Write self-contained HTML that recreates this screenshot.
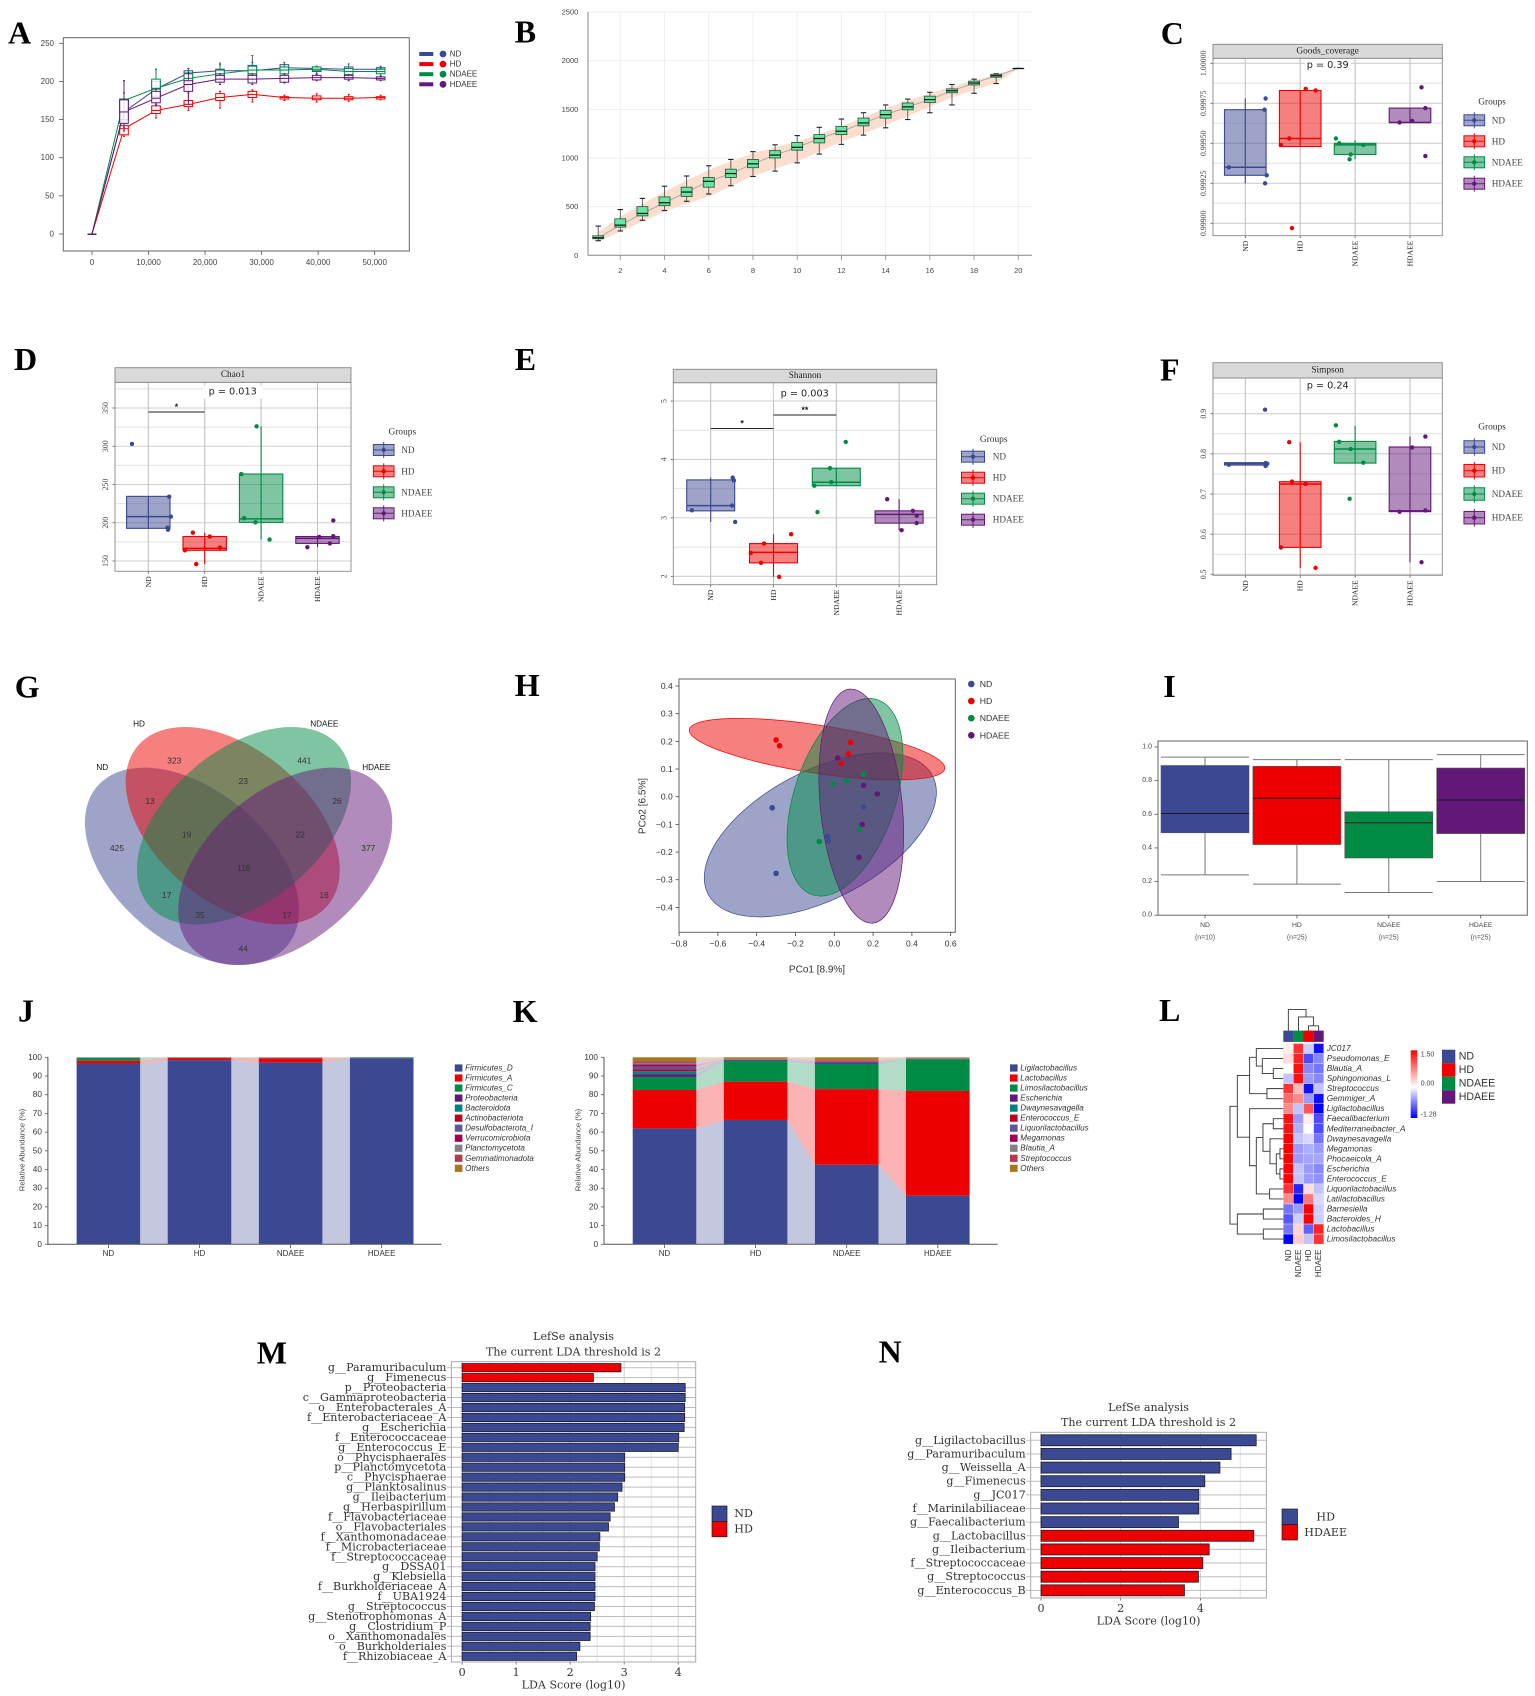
<!DOCTYPE html>
<html lang="en">
<head>
<meta charset="utf-8">
<title>Microbiome figure panels A-N</title>
<style>
html,body{margin:0;padding:0;background:#fff;}
svg{display:block;filter:blur(0.35px);font-family:"Liberation Sans",sans-serif;}
.letter{font-family:"Liberation Serif",serif;font-weight:bold;font-size:32px;fill:#000;}
.venn{font-size:8.4px;text-anchor:middle;dominant-baseline:central;fill:#333;}
.vset{font-size:8.2px;text-anchor:middle;dominant-baseline:central;fill:#111;}
</style>
</head>
<body>
<svg id="figure" xmlns="http://www.w3.org/2000/svg" width="1535" height="1696" viewBox="0 0 1535 1696">
<rect x="0" y="0" width="1535" height="1696" fill="#fff"/>
<text class="letter" x="8" y="43.3">A</text>
<text class="letter" x="514.7" y="42.7">B</text>
<text class="letter" x="1160.7" y="44">C</text>
<text class="letter" x="14" y="370">D</text>
<text class="letter" x="514.7" y="370">E</text>
<text class="letter" x="1160" y="380.7">F</text>
<text class="letter" x="14.7" y="697.3">G</text>
<text class="letter" x="514.7" y="696">H</text>
<text class="letter" x="1163.3" y="697">I</text>
<text class="letter" x="18" y="1021.7">J</text>
<text class="letter" x="512.6" y="1022">K</text>
<text class="letter" x="1159" y="1021">L</text>
<text class="letter" x="256.8" y="1363.3">M</text>
<text class="letter" x="878.6" y="1362.7">N</text>

<g id="panel-a"></g>
<g id="panel-b"></g>
<g id="panel-c"></g>
<g id="panel-d"></g>
<g id="panel-e"></g>
<g id="panel-f"></g>

<g id="panel-g">
<ellipse cx="192" cy="866.3" rx="124" ry="76.3" transform="rotate(39.8 192 866.3)" fill="#3b4992" fill-opacity=".5"/>
<ellipse cx="232.7" cy="825.7" rx="124" ry="76.3" transform="rotate(39.8 232.7 825.7)" fill="#ee0000" fill-opacity=".5"/>
<ellipse cx="244" cy="825.7" rx="124" ry="76.3" transform="rotate(-39.8 244 825.7)" fill="#008b45" fill-opacity=".5"/>
<ellipse cx="285.2" cy="866.3" rx="124" ry="76.3" transform="rotate(-39.8 285.2 866.3)" fill="#631879" fill-opacity=".5"/>
<text class="vset" x="139" y="724">HD</text>
<text class="vset" x="324.3" y="724">NDAEE</text>
<text class="vset" x="102.3" y="767.7">ND</text>
<text class="vset" x="376.3" y="767.7">HDAEE</text>
<text class="venn" x="117" y="848">425</text>
<text class="venn" x="174.3" y="760.7">323</text>
<text class="venn" x="304.3" y="760.7">441</text>
<text class="venn" x="368.3" y="848">377</text>
<text class="venn" x="150" y="801">13</text>
<text class="venn" x="243.3" y="781">23</text>
<text class="venn" x="337" y="801">26</text>
<text class="venn" x="186.7" y="834.7">19</text>
<text class="venn" x="300.3" y="834.7">22</text>
<text class="venn" x="243.7" y="868">116</text>
<text class="venn" x="166.7" y="895">17</text>
<text class="venn" x="324" y="895">16</text>
<text class="venn" x="200" y="915">35</text>
<text class="venn" x="287" y="915">17</text>
<text class="venn" x="243.3" y="948.3">44</text>
</g>

<g id="panel-h"></g>
<g id="panel-i"></g>
<g id="panel-j"></g>
<g id="panel-k"></g>
<g id="panel-l"></g>
<g id="panel-m"></g>
<g id="panel-n"></g>
</svg>

<script>
/* ---------- shared categories ---------- */
const groups = ['ND','HD','NDAEE','HDAEE'];
const groupColors = ['#3b4992','#ee0000','#008b45','#631879'];
const stackColors = ['#3b4992','#ee0000','#008b45','#631879','#008280','#bb0021','#5f559b','#a20056','#808180','#b2394f','#a6761d'];

/* ---------- panel A data ---------- */
const a_steps = [0,5660,11320,17040,22640,28360,34020,39740,45400,51060];
const a_x_ticks = [0,10000,20000,30000,40000,50000];
const a_x_labels = ['0','10,000','20,000','30,000','40,000','50,000'];
const a_y_ticks = [0,50,100,150,200,250];
const a_nd_med = [0,160,190,211,214,214,218,217,216,216];
const a_nd_q1 = [0,150,180,200,208,208,214,213,213,212];
const a_nd_q3 = [0,176,200,214,216,221,222,219,219,218];
const a_nd_lo = [0,133,170,190,200,200,208,207,207,206];
const a_nd_hi = [0,185,216,217,224,234,225,220,223,220];
const a_hd_med = [0,138,162,170,179,183,179,178,178,179];
const a_hd_q1 = [0,130,158,167,175,179,177,176,176,177];
const a_hd_q3 = [0,142,168,175,184,187,180,181,180,180];
const a_hd_lo = [0,128,152,162,165,173,175,173,174,176];
const a_hd_hi = [0,150,172,185,187,189,182,184,183,182];
const a_ndaee_med = [0,175,191,204,210,215,215,216,213,213];
const a_ndaee_q1 = [0,160,190,198,207,210,210,214,209,210];
const a_ndaee_q3 = [0,177,203,210,215,220,219,219,217,216];
const a_ndaee_lo = [0,140,180,190,200,205,205,210,205,206];
const a_ndaee_hi = [0,201,216,217,222,225,222,220,219,218];
const a_hdaee_med = [0,160,178,196,203,203,204,205,205,204];
const a_hdaee_q1 = [0,145,172,187,199,198,199,202,203,202];
const a_hdaee_q3 = [0,176,187,201,208,208,208,208,208,206];
const a_hdaee_lo = [0,135,168,170,196,196,198,201,201,201];
const a_hdaee_hi = [0,201,190,212,210,210,210,209,209,207];

/* ---------- panel B data ---------- */
const b_samples = [1,2,3,4,5,6,7,8,9,10,11,12,13,14,15,16,17,18,19,20];
const b_x_ticks = [2,4,6,8,10,12,14,16,18,20];
const b_y_ticks = [0,500,1000,1500,2000,2500];
const b_hi = [300,470,585,710,815,920,985,1065,1135,1230,1315,1400,1465,1545,1605,1675,1755,1810,1865,1920];
const b_q3 = [200,375,500,600,700,800,885,985,1075,1160,1240,1325,1410,1490,1565,1635,1710,1790,1860,1920];
const b_med = [180,310,430,540,650,760,840,940,1030,1110,1200,1275,1360,1445,1525,1600,1690,1770,1845,1920];
const b_q1 = [170,290,405,510,605,700,800,900,1000,1080,1155,1240,1330,1410,1495,1570,1670,1750,1830,1920];
const b_lo = [150,250,360,460,555,630,715,810,865,950,1040,1140,1235,1310,1395,1465,1545,1665,1765,1920];
const b_band_hi = [240,397,530,654,770,877,965,1048,1110,1168,1245,1322,1420,1510,1590,1664,1735,1800,1855,1920];
const b_band_lo = [140,243,345,449,530,603,710,815,890,962,1065,1168,1250,1339,1430,1527,1620,1700,1767,1920];

/* ---------- panel C data ---------- */
const c_ticks = [0.999,0.99925,0.9995,0.99975,1];
const c_tick_labels = ['0.99900','0.99925','0.99950','0.99975','1.00000'];
const c_q1 = [0.9993,0.99948,0.99943,0.99963];
const c_med = [0.99935,0.99953,0.99949,0.99963];
const c_q3 = [0.99971,0.99983,0.9995,0.99972];
const c_lo = [0.99925,0.99948,0.9994,0.99963];
const c_hi = [0.99978,0.99983,0.99952,0.99972];
const c_nd_pts = [0.99978,0.99971,0.99935,0.9993,0.99925];
const c_hd_pts = [0.99984,0.99983,0.99953,0.99949,0.99897];
const c_ndaee_pts = [0.99953,0.9995,0.99949,0.99943,0.9994];
const c_hdaee_pts = [0.99985,0.99972,0.99963,0.99964,0.99942];
const c_nd_jit = [0.37,0.35,-0.3,0.39,0.36];
const c_hd_jit = [0.1,0.28,-0.2,-0.35,-0.15];
const c_ndaee_jit = [-0.35,-0.29,0.15,-0.08,-0.1];
const c_hdaee_jit = [0.21,0.28,-0.19,0.04,0.28];

/* ---------- panel D data ---------- */
const d_ticks = [150,200,250,300,350];
const d_tick_labels = ['150','200','250','300','350'];
const d_q1 = [192.7,164,200.5,173];
const d_med = [208,166.5,205,179.5];
const d_q3 = [234.5,182,263.7,182];
const d_lo = [192.7,146,178,168];
const d_hi = [234.5,187,326,182];
const d_nd_pts = [303,234,208,193.5,191];
const d_hd_pts = [187,182,167.5,164,146];
const d_ndaee_pts = [326,263.7,206,200.5,178];
const d_hdaee_pts = [203,182.5,181.5,173,168];
const d_nd_jit = [-0.29,0.37,0.4,0.34,0.35];
const d_hd_jit = [-0.21,0.09,0.27,-0.35,-0.15];
const d_ndaee_jit = [-0.08,-0.35,-0.3,-0.1,0.15];
const d_hdaee_jit = [0.28,0.28,0.03,0.22,-0.18];

/* ---------- panel E data ---------- */
const e_ticks = [2,3,4,5];
const e_tick_labels = ['2','3','4','5'];
const e_q1 = [3.12,2.23,3.55,2.91];
const e_med = [3.21,2.41,3.61,3.06];
const e_q3 = [3.65,2.56,3.85,3.12];
const e_lo = [2.93,1.99,3.55,2.79];
const e_hi = [3.69,2.72,3.85,3.32];
const e_nd_pts = [3.69,3.64,3.21,3.13,2.93];
const e_hd_pts = [2.72,2.56,2.4,2.23,1.99];
const e_ndaee_pts = [4.3,3.85,3.61,3.55,3.1];
const e_hdaee_pts = [3.32,3.12,3.04,2.91,2.79];
const e_nd_jit = [0.35,0.37,0.34,-0.3,0.39];
const e_hd_jit = [0.28,-0.15,-0.36,-0.2,0.09];
const e_ndaee_jit = [0.15,-0.1,-0.08,-0.35,-0.3];
const e_hdaee_jit = [-0.19,0.22,0.28,0.28,0.04];

/* ---------- panel F data ---------- */
const f_ticks = [0.5,0.6,0.7,0.8,0.9];
const f_tick_labels = ['0.5','0.6','0.7','0.8','0.9'];
const f_q1 = [0.772,0.567,0.777,0.656];
const f_med = [0.7755,0.725,0.812,0.658];
const f_q3 = [0.778,0.7307,0.831,0.817];
const f_lo = [0.772,0.516,0.777,0.53];
const f_hi = [0.778,0.829,0.87,0.843];
const f_nd_pts = [0.91,0.777,0.7755,0.77,0.773];
const f_hd_pts = [0.829,0.731,0.725,0.567,0.516];
const f_ndaee_pts = [0.871,0.83,0.812,0.778,0.688];
const f_hdaee_pts = [0.843,0.816,0.656,0.659,0.53];
const f_nd_jit = [0.36,0.37,0.4,0.37,-0.3];
const f_hd_jit = [-0.2,-0.15,0.1,-0.35,0.28];
const f_ndaee_jit = [-0.35,-0.29,-0.08,0.15,-0.1];
const f_hdaee_jit = [0.28,0.04,-0.19,0.28,0.21];

/* ---------- panel H data ---------- */
const h_x_ticks = [-0.8,-0.6,-0.4,-0.2,0,0.2,0.4,0.6];
const h_x_labels = ['\u22120.8','\u22120.6','\u22120.4','\u22120.2','0.0','0.2','0.4','0.6'];
const h_y_ticks = [-0.4,-0.3,-0.2,-0.1,0,0.1,0.2,0.3,0.4];
const h_y_labels = ['\u22120.4','\u22120.3','\u22120.2','\u22120.1','0.0','0.1','0.2','0.3','0.4'];
const h_nd_x = [-0.32,-0.30,-0.034,-0.029,0.151];
const h_nd_y = [-0.04,-0.277,-0.144,-0.16,-0.037];
const h_hd_x = [-0.30,-0.282,0.084,0.072,0.036];
const h_hd_y = [0.205,0.184,0.196,0.155,0.12];
const h_ndaee_x = [0.151,0.064,-0.007,0.129,-0.077];
const h_ndaee_y = [0.082,0.058,0.047,-0.117,-0.162];
const h_hdaee_x = [0.017,0.151,0.222,0.144,0.127];
const h_hdaee_y = [0.14,0.041,0.01,-0.1,-0.219];
const h_ell_cx = [-0.072,-0.089,0.055,0.139];
const h_ell_cy = [-0.138,0.172,-0.002,-0.034];
const h_ell_major = [0.654,0.666,0.53,0.606];
const h_ell_minor = [0.33,0.124,0.261,0.211];
const h_ell_angle = [-27.9,8.7,-71.6,84.3];

/* ---------- panel I data ---------- */
const i_ticks = [0,0.2,0.4,0.6,0.8,1];
const i_tick_labels = ['0.0','0.2','0.4','0.6','0.8','1.0'];
const i_counts = ['(n=10)','(n=25)','(n=25)','(n=25)'];
const i_hi = [0.94,0.925,0.925,0.955];
const i_q3 = [0.89,0.885,0.615,0.875];
const i_med = [0.605,0.695,0.55,0.685];
const i_q1 = [0.49,0.42,0.34,0.485];
const i_lo = [0.24,0.185,0.135,0.2];

/* ---------- panel J data ---------- */
const stack_ticks = [0,10,20,30,40,50,60,70,80,90,100];
const j_names = ['Firmicutes_D','Firmicutes_A','Firmicutes_C','Proteobacteria','Bacteroidota','Actinobacteriota','Desulfobacterota_I','Verrucomicrobiota','Planctomycetota','Gemmatimonadota','Others'];
const j_firmicutes_d = [96.7,98.5,97.3,99.5];
const j_firmicutes_a = [1.5,1.1,2.2,0.1];
const j_firmicutes_c = [1.4,0.2,0.1,0.3];
const j_proteobacteria = [0.1,0.05,0.1,0.02];
const j_bacteroidota = [0.1,0.05,0.1,0.02];
const j_actinobacteriota = [0.05,0.02,0.05,0.01];
const j_desulfobacterota = [0.05,0.02,0.05,0.01];
const j_verrucomicrobiota = [0.02,0.02,0.02,0.01];
const j_planctomycetota = [0.02,0.01,0.02,0.01];
const j_gemmatimonadota = [0.02,0.01,0.02,0.01];
const j_others = [0.04,0.04,0.04,0.01];

/* ---------- panel K data ---------- */
const k_names = ['Ligilactobacillus','Lactobacillus','Limosilactobacillus','Escherichia','Dwaynesavagella','Enterococcus_E','Liquorilactobacillus','Megamonas','Blautia_A','Streptococcus','Others'];
const k_ligilactobacillus = [62,66.5,42.5,26];
const k_lactobacillus = [20.5,20.5,40.5,56];
const k_limosilactobacillus = [7,11,13.5,17];
const k_escherichia = [1.5,0.3,0.8,0.1];
const k_dwaynesavagella = [1.5,0.2,0.3,0.1];
const k_enterococcus = [1,0.2,0.3,0.1];
const k_liquorilactobacillus = [1.5,0.2,0.2,0.1];
const k_megamonas = [1.2,0.1,0.2,0.1];
const k_blautia = [0.8,0.1,0.1,0.1];
const k_streptococcus = [0.8,0.1,0.2,0.1];
const k_others = [2.2,0.8,1.4,0.3];

/* ---------- panel L data ---------- */
const l_columns = ['ND','NDAEE','HD','HDAEE'];
const l_column_colors = ['#3b4992','#008b45','#ee0000','#631879'];
const l_rows = ['JC017','Pseudomonas_E','Blautia_A','Sphingomonas_L','Streptococcus','Gemmiger_A','Ligilactobacillus','Faecalibacterium','Mediterraneibacter_A','Dwaynesavagella','Megamonas','Phocaeicola_A','Escherichia','Enterococcus_E','Liquorilactobacillus','Latilactobacillus','Barnesiella','Bacteroides_H','Lactobacillus','Limosilactobacillus'];
const l_nd = [0.1,0.2,0,-0.3,1.2,0.9,0.7,1.4,1.4,1.5,1.5,1.5,1.5,1.5,1.2,0.7,-0.7,-0.85,-0.7,-1.28];
const l_ndaee = [1.2,1.3,1.4,1.4,0.4,0.7,-0.3,-0.5,-0.4,-0.3,-0.5,-0.5,-0.3,-0.3,-1.1,-1.28,-0.5,-0.25,0.25,0.3];
const l_hd = [-0.25,-0.9,-0.6,-0.5,-1.2,-0.5,1.0,0.1,0.02,-0.2,-0.4,-0.45,-0.5,-0.5,0.2,0.8,1.5,1.5,-0.8,-0.3];
const l_hdaee = [-1.2,-0.6,-0.7,-0.6,-0.3,-1.2,-1.28,-0.9,-0.9,-0.7,-0.5,-0.45,-0.6,-0.55,-0.3,-0.2,-0.25,-0.25,1.3,1.2];
const l_row_tree = [160,[138,[101,[81,0,[63,1,[30,2,3]]],[49,4,5]],[101,6,[81,[61,[30,7,8],[40,9,[21,[10,10,11],[10,12,13]]]],[41,14,15]]]],[138,[60,16,17],[60,18,19]]];
const l_col_tree = [21,0,[13.7,1,[4.8,2,3]]];

/* ---------- panel M data ---------- */
const m_labels = ['g__Paramuribaculum','g__Fimenecus','p__Proteobacteria','c__Gammaproteobacteria','o__Enterobacterales_A','f__Enterobacteriaceae_A','g__Escherichia','f__Enterococcaceae','g__Enterococcus_E','o__Phycisphaerales','p__Planctomycetota','c__Phycisphaerae','g__Planktosalinus','g__Ileibacterium','g__Herbaspirillum','f__Flavobacteriaceae','o__Flavobacteriales','f__Xanthomonadaceae','f__Microbacteriaceae','f__Streptococcaceae','g__DSSA01','g__Klebsiella','f__Burkholderiaceae_A','f__UBA1924','g__Streptococcus','g__Stenotrophomonas_A','g__Clostridium_P','o__Xanthomonadales','o__Burkholderiales','f__Rhizobiaceae_A'];
const m_scores = [2.94,2.43,4.13,4.13,4.12,4.12,4.11,4.01,4.0,3.01,3.01,3.01,2.96,2.88,2.82,2.74,2.71,2.55,2.54,2.5,2.46,2.46,2.46,2.46,2.45,2.38,2.37,2.37,2.18,2.12];
const m_classes = [1,1,0,0,0,0,0,0,0,0,0,0,0,0,0,0,0,0,0,0,0,0,0,0,0,0,0,0,0,0];
const m_ticks = [0,1,2,3,4];

/* ---------- panel N data ---------- */
const n_labels = ['g__Ligilactobacillus','g__Paramuribaculum','g__Weissella_A','g__Fimenecus','g__JC017','f__Marinilabiliaceae','g__Faecalibacterium','g__Lactobacillus','g__Ileibacterium','f__Streptococcaceae','g__Streptococcus','g__Enterococcus_B'];
const n_scores = [5.4,4.77,4.49,4.11,3.96,3.96,3.45,5.34,4.22,4.06,3.95,3.6];
const n_classes = [0,0,0,0,0,0,0,1,1,1,1,1];
const n_ticks = [0,2,4];

/* ---------- helpers ---------- */
const NS = 'http://www.w3.org/2000/svg';
function add(parent, tag, attrs, content) {
  const e = document.createElementNS(NS, tag);
  for (const k in attrs) e.setAttribute(k, attrs[k]);
  if (content !== undefined) e.textContent = content;
  parent.appendChild(e);
  return e;
}
function linear(d0, d1, r0, r1) {
  return v => r0 + (v - d0) * (r1 - r0) / (d1 - d0);
}
function panel(id) { return document.getElementById(id); }
const SERIF = '"Liberation Serif",serif';
const DJSERIF = '"DejaVu Serif","Liberation Serif",serif';
const DJSANS = '"DejaVu Sans","Liberation Sans",sans-serif';

/* ---------- panel A ---------- */
(function () {
  const g = panel('panel-a');
  const x = linear(0, 50000, 92, 374.7);
  const y = linear(0, 250, 234, 43.3);
  const frame = add(g, 'rect', {x:63.3, y:37.7, width:346, height:213.3, fill:'#fff', stroke:'#666', 'stroke-width':1});
  
  
  a_y_ticks.forEach(t => {
    const tk = add(g, 'line', {x1:59, x2:63.3, y1:y(t), y2:y(t), stroke:'#555', 'stroke-width':.8});
    
    
    const lb = add(g, 'text', {x:54, y:y(t), 'text-anchor':'end', 'dominant-baseline':'central', 'font-size':8, fill:'#444'}, String(t));
    
    
  });
  a_x_ticks.forEach((t, i) => {
    const tk = add(g, 'line', {x1:x(t), x2:x(t), y1:251, y2:255, stroke:'#555', 'stroke-width':.8});
    
    
    const lb = add(g, 'text', {x:x(t), y:262.3, 'text-anchor':'middle', 'dominant-baseline':'central', 'font-size':8, fill:'#444'}, a_x_labels[i]);
    
    
  });
  const series = [
    [a_nd_med,a_nd_q1,a_nd_q3,a_nd_lo,a_nd_hi],
    [a_hd_med,a_hd_q1,a_hd_q3,a_hd_lo,a_hd_hi],
    [a_ndaee_med,a_ndaee_q1,a_ndaee_q3,a_ndaee_lo,a_ndaee_hi],
    [a_hdaee_med,a_hdaee_q1,a_hdaee_q3,a_hdaee_lo,a_hdaee_hi]
  ];
  series.forEach((s, si) => {
    const col = groupColors[si];
    const line = add(g, 'polyline', {points:a_steps.map((st, i) => x(st) + ',' + y(s[0][i])).join(' '), fill:'none', stroke:col, 'stroke-width':1});
    
    
    a_steps.forEach((st, i) => {
      const cx = x(st);
      const w = add(g, 'line', {x1:cx, x2:cx, y1:y(s[3][i]), y2:y(s[4][i]), stroke:col, 'stroke-width':.9});
      
      
      [s[3][i], s[4][i]].forEach(v => {
        const cp = add(g, 'line', {x1:cx - 1, x2:cx + 1, y1:y(v), y2:y(v), stroke:col, 'stroke-width':1});
        
        
      });
      const hw = i === 0 ? 4 : 4.3;
      const b = add(g, 'rect', {x:cx - hw, y:y(s[2][i]), width:hw * 2, height:Math.max(.5, y(s[1][i]) - y(s[2][i])), fill:'#fff', 'fill-opacity':.85, stroke:col, 'stroke-width':1});
      
      
      const m = add(g, 'line', {x1:cx - hw, x2:cx + hw, y1:y(s[0][i]), y2:y(s[0][i]), stroke:col, 'stroke-width':1});
      
      
    });
  });
  groups.forEach((name, i) => {
    const ly = 54 + i * 10.1;
    const sw = add(g, 'line', {x1:419.3, x2:433.3, y1:ly, y2:ly, stroke:groupColors[i], 'stroke-width':4});
    
    
    const c = add(g, 'circle', {cx:443, cy:ly, r:3.4, fill:groupColors[i]});
    
    
    const t = add(g, 'text', {x:449.7, y:ly, 'dominant-baseline':'central', 'font-size':8, fill:'#333'}, name);
    
    
  });
})();

/* ---------- panel B ---------- */
(function () {
  const g = panel('panel-b');
  const x = linear(2, 20, 620.3, 1018.3);
  const y = linear(0, 2500, 255.3, 12);
  b_y_ticks.forEach(t => {
    const gl = add(g, 'line', {x1:588, x2:1032, y1:y(t), y2:y(t), stroke:'#eee', 'stroke-width':1});
    
    
    const lb = add(g, 'text', {x:578.3, y:y(t), 'text-anchor':'end', 'dominant-baseline':'central', 'font-size':7.5, fill:'#444'}, String(t));
    
    
  });
  b_x_ticks.forEach(t => {
    const gl = add(g, 'line', {x1:x(t), x2:x(t), y1:12, y2:255.3, stroke:'#eee', 'stroke-width':1});
    
    
    const tk = add(g, 'line', {x1:x(t), x2:x(t), y1:255.3, y2:260, stroke:'#888', 'stroke-width':.8});
    
    
    const lb = add(g, 'text', {x:x(t), y:270.3, 'text-anchor':'middle', 'dominant-baseline':'central', 'font-size':7.5, fill:'#444'}, String(t));
    
    
  });
  const axL = add(g, 'line', {x1:588, x2:588, y1:12, y2:255.3, stroke:'#aaa', 'stroke-width':1.4});
  
  
  const axB = add(g, 'line', {x1:588, x2:1032, y1:255.3, y2:255.3, stroke:'#888', 'stroke-width':1});
  
  
  const upper = b_samples.map((s, i) => x(s) + ',' + y(b_band_hi[i]));
  const lower = b_samples.map((s, i) => x(s) + ',' + y(b_band_lo[i])).reverse();
  const band = add(g, 'polygon', {points:upper.concat(lower).join(' '), fill:'#fbdccb', 'fill-opacity':.95});
  
  
  const ml = add(g, 'polyline', {points:b_samples.map((s, i) => x(s) + ',' + y(b_med[i])).join(' '), fill:'none', stroke:'#aaa', 'stroke-width':1});
  
  
  b_samples.forEach((s, i) => {
    const cx = x(s);
    const w = add(g, 'line', {x1:cx, x2:cx, y1:y(b_lo[i]), y2:y(b_hi[i]), stroke:'#555', 'stroke-width':.9});
    
    
    [b_lo[i], b_hi[i]].forEach(v => {
      const c = add(g, 'line', {x1:cx - 2.7, x2:cx + 2.7, y1:y(v), y2:y(v), stroke:'#222', 'stroke-width':1.1});
      
      
    });
    const b = add(g, 'rect', {x:cx - 5.5, y:y(b_q3[i]), width:11, height:Math.max(.3, y(b_q1[i]) - y(b_q3[i])), fill:'#62e8a0', stroke:'#2d4a3a', 'stroke-width':.8});
    
    
    const m = add(g, 'line', {x1:cx - 5.5, x2:cx + 5.5, y1:y(b_med[i]), y2:y(b_med[i]), stroke:'#111', 'stroke-width':1.2});
    
    
  });
})();

/* ---------- panels C-F ---------- */
function facet(cfg) {
  const g = panel(cfg.id);
  const y = linear(cfg.ticks[0], cfg.ticks[cfg.ticks.length - 1], cfg.y0, cfg.y1);
  const x = i => cfg.cats[0] + i * (cfg.cats[1] - cfg.cats[0]);
  const spacing = cfg.cats[1] - cfg.cats[0];
  const bg = add(g, 'rect', {x:cfg.left, y:cfg.stripBot, width:cfg.right - cfg.left, height:cfg.bottom - cfg.stripBot, fill:'#fff'});
  
  
  const step = cfg.ticks[1] - cfg.ticks[0];
  for (let v = cfg.ticks[0] - step / 2; y(v) > cfg.stripBot; v += step) {
    if (y(v) >= cfg.bottom) continue;
    const mg = add(g, 'line', {x1:cfg.left, x2:cfg.right, y1:y(v), y2:y(v), stroke:'#e2e2e2', 'stroke-width':1});
    
    
  }
  cfg.ticks.forEach((t, i) => {
    const gl = add(g, 'line', {x1:cfg.left, x2:cfg.right, y1:y(t), y2:y(t), stroke:'#cfcfcf', 'stroke-width':1.1});
    
    
    const tk = add(g, 'line', {x1:cfg.left - 2.5, x2:cfg.left, y1:y(t), y2:y(t), stroke:'#555', 'stroke-width':.8});
    
    
    const lx = cfg.left - 9.5;
    const lb = add(g, 'text', {x:lx, y:y(t), 'text-anchor':'middle', 'dominant-baseline':'central', transform:'rotate(-90 ' + lx + ' ' + y(t) + ')', 'font-size':7.9, 'font-family':SERIF, fill:'#444'}, cfg.tickLabels[i]);
    
    
  });
  groups.forEach((name, i) => {
    const vl = add(g, 'line', {x1:x(i), x2:x(i), y1:cfg.stripBot, y2:cfg.bottom, stroke:'#c2c2c2', 'stroke-width':1.1});
    
    
    const tk = add(g, 'line', {x1:x(i), x2:x(i), y1:cfg.bottom, y2:cfg.bottom + 2.5, stroke:'#555', 'stroke-width':.8});
    
    
    const ly = cfg.bottom + 5;
    const lb = add(g, 'text', {x:x(i), y:ly, 'text-anchor':'end', 'dominant-baseline':'central', transform:'rotate(-90 ' + x(i) + ' ' + ly + ')', 'font-size':7.6, 'font-family':SERIF, fill:'#222'}, name);
    
    
  });
  groups.forEach((name, i) => {
    const col = groupColors[i];
    const low = name.toLowerCase();
    const w = add(g, 'line', {x1:x(i), x2:x(i), y1:y(cfg.lo[i]), y2:y(cfg.hi[i]), stroke:col, 'stroke-width':1.1});
    
    
    const b = add(g, 'rect', {x:x(i) - cfg.hw, y:y(cfg.q3[i]), width:cfg.hw * 2, height:y(cfg.q1[i]) - y(cfg.q3[i]), fill:col, 'fill-opacity':.5, stroke:col, 'stroke-width':1.1});
    
    
    const m = add(g, 'line', {x1:x(i) - cfg.hw, x2:x(i) + cfg.hw, y1:y(cfg.med[i]), y2:y(cfg.med[i]), stroke:col, 'stroke-width':1.5});
    
    
    cfg.pts[i].forEach((v, k) => {
      const p = add(g, 'circle', {cx:x(i) + cfg.jit[i][k] * spacing, cy:y(v), r:2.2, fill:col});
      
      
    });
  });
  const frame = add(g, 'rect', {x:cfg.left, y:cfg.stripBot, width:cfg.right - cfg.left, height:cfg.bottom - cfg.stripBot, fill:'none', stroke:'#888', 'stroke-width':.9});
  
  
  const strip = add(g, 'rect', {x:cfg.left, y:cfg.stripTop, width:cfg.right - cfg.left, height:cfg.stripBot - cfg.stripTop, fill:'#d9d9d9', stroke:'#858585', 'stroke-width':.9});
  
  
  const tx = (cfg.left + cfg.right) / 2;
  const st = add(g, 'text', {x:tx, y:(cfg.stripTop + cfg.stripBot) / 2, 'text-anchor':'middle', 'dominant-baseline':'central', 'font-size':9.3, 'font-family':SERIF, fill:'#222'}, cfg.title);
  
  
  const pbg = add(g, 'rect', {x:cfg.pX - cfg.pW / 2, y:cfg.pY - 6.5, width:cfg.pW, height:13, fill:'#fff'});
  
  
  const pt = add(g, 'text', {x:cfg.pX, y:cfg.pY, 'text-anchor':'middle', 'dominant-baseline':'central', 'font-size':9.7, 'font-family':DJSANS, fill:'#222'}, cfg.p);
  
  
  (cfg.brackets || []).forEach(br => {
    const l = add(g, 'line', {x1:x(br.a), x2:x(br.b), y1:y(br.v), y2:y(br.v), stroke:'#222', 'stroke-width':1});
    
    
    const s = add(g, 'text', {x:(x(br.a) + x(br.b)) / 2, y:y(br.v) - 5, 'text-anchor':'middle', 'dominant-baseline':'central', 'font-size':9, 'font-weight':'bold', fill:'#222'}, br.s);
    
    
  });
  const lg = cfg.legend;
  const lt = add(g, 'text', {x:lg.titleX, y:lg.titleY, 'text-anchor':'middle', 'dominant-baseline':'central', 'font-size':9.4, 'font-family':SERIF, fill:'#333'}, 'Groups');
  
  
  groups.forEach((name, i) => {
    const col = groupColors[i];
    const low = name.toLowerCase();
    const ky = lg.ys[i];
    const v = add(g, 'line', {x1:lg.keyX, x2:lg.keyX, y1:ky - lg.h / 2 - 2.5, y2:ky + lg.h / 2 + 2.5, stroke:col, 'stroke-width':1});
    
    
    const r = add(g, 'rect', {x:lg.keyX - lg.w / 2, y:ky - lg.h / 2, width:lg.w, height:lg.h, fill:col, 'fill-opacity':.5, stroke:col, 'stroke-width':1});
    
    
    const h = add(g, 'line', {x1:lg.keyX - lg.w / 2, x2:lg.keyX + lg.w / 2, y1:ky, y2:ky, stroke:col, 'stroke-width':1});
    
    
    const d = add(g, 'circle', {cx:lg.keyX, cy:ky, r:2.2, fill:col});
    
    
    const t = add(g, 'text', {x:lg.textX, y:ky, 'dominant-baseline':'central', 'font-size':9.2, 'font-family':SERIF, fill:'#444'}, name);
    
    
  });
}
facet({id:'panel-c', title:'Goods_coverage', p:'p = 0.39', pW:46, left:1213, right:1442.3, stripTop:44.3, stripBot:58.3, bottom:235.7,
  ticks:c_ticks, tickLabels:c_tick_labels, y0:223.3, y1:63.3, cats:[1245.3,1300.2,1355.1,1410], hw:20.8,
  q1:c_q1, med:c_med, q3:c_q3, lo:c_lo, hi:c_hi, pts:[c_nd_pts,c_hd_pts,c_ndaee_pts,c_hdaee_pts], jit:[c_nd_jit,c_hd_jit,c_ndaee_jit,c_hdaee_jit],
  pX:1327.7, pY:65.5,
  legend:{titleX:1492, titleY:102.7, keyX:1474.3, textX:1491.7, ys:[120.3,141.3,162.3,183.7], w:20.7, h:11}});
facet({id:'panel-d', title:'Chao1', p:'p = 0.013', pW:60, left:115, right:351, stripTop:367.7, stripBot:382.3, bottom:571.3,
  ticks:d_ticks, tickLabels:d_tick_labels, y0:561, y1:408, cats:[148.3,204.7,261,317.3], hw:21.7,
  q1:d_q1, med:d_med, q3:d_q3, lo:d_lo, hi:d_hi, pts:[d_nd_pts,d_hd_pts,d_ndaee_pts,d_hdaee_pts], jit:[d_nd_jit,d_hd_jit,d_ndaee_jit,d_hdaee_jit],
  pX:232.7, pY:392, brackets:[{a:0, b:1, v:344.8, s:'*'}],
  legend:{titleX:402.3, titleY:432.7, keyX:383.7, textX:401.3, ys:[450,471.3,492.3,513.3], w:20.7, h:11}});
facet({id:'panel-e', title:'Shannon', p:'p = 0.003', pW:62, left:673.3, right:936.7, stripTop:369.3, stripBot:382.7, bottom:584.7,
  ticks:e_ticks, tickLabels:e_tick_labels, y0:576.3, y1:401, cats:[710.7,773.5,836.3,899], hw:24,
  q1:e_q1, med:e_med, q3:e_q3, lo:e_lo, hi:e_hi, pts:[e_nd_pts,e_hd_pts,e_ndaee_pts,e_hdaee_pts], jit:[e_nd_jit,e_hd_jit,e_ndaee_jit,e_hdaee_jit],
  pX:804.7, pY:394, brackets:[{a:0, b:1, v:4.53, s:'*'},{a:1, b:2, v:4.76, s:'**'}],
  legend:{titleX:993.7, titleY:440, keyX:973, textX:992.7, ys:[456.7,477.7,498.7,519.7], w:23, h:11}});
facet({id:'panel-f', title:'Simpson', p:'p = 0.24', pW:46, left:1213, right:1442.3, stripTop:362.7, stripBot:378, bottom:575.3,
  ticks:f_ticks, tickLabels:f_tick_labels, y0:574.3, y1:413.7, cats:[1245.3,1300.2,1355.1,1410], hw:20.8,
  q1:f_q1, med:f_med, q3:f_q3, lo:f_lo, hi:f_hi, pts:[f_nd_pts,f_hd_pts,f_ndaee_pts,f_hdaee_pts], jit:[f_nd_jit,f_hd_jit,f_ndaee_jit,f_hdaee_jit],
  pX:1327.7, pY:386,
  legend:{titleX:1492, titleY:427.7, keyX:1474.3, textX:1491.7, ys:[447,470.7,494,517.7], w:20.7, h:12.5}});

/* ---------- panel H ---------- */
(function () {
  const g = panel('panel-h');
  const x = linear(0, 0.6, 834.3, 950.7);
  const y = linear(0, 0.4, 796.7, 686);
  const pxPerUnit = (950.7 - 834.3) / 0.6;
  const frame = add(g, 'rect', {x:679, y:679, width:276.3, height:253.3, fill:'#fff', stroke:'#666', 'stroke-width':1});
  
  
  groups.forEach((name, i) => {
    const cx = x(h_ell_cx[i]);
    const cy = y(h_ell_cy[i]);
    const e = add(g, 'ellipse', {cx:cx, cy:cy, rx:h_ell_major[i] * pxPerUnit, ry:h_ell_minor[i] * pxPerUnit, transform:'rotate(' + h_ell_angle[i] + ' ' + cx + ' ' + cy + ')', fill:groupColors[i], 'fill-opacity':.5, stroke:groupColors[i], 'stroke-width':.7});
    
    
  });
  const xs = [h_nd_x,h_hd_x,h_ndaee_x,h_hdaee_x];
  const ys = [h_nd_y,h_hd_y,h_ndaee_y,h_hdaee_y];
  groups.forEach((name, i) => {
    xs[i].forEach((v, k) => {
      const p = add(g, 'circle', {cx:x(v), cy:y(ys[i][k]), r:2.8, fill:groupColors[i]});
      
      
    });
  });
  h_x_ticks.forEach((t, i) => {
    const tk = add(g, 'line', {x1:x(t), x2:x(t), y1:932.3, y2:936, stroke:'#444', 'stroke-width':.8});
    
    
    const lb = add(g, 'text', {x:x(t), y:943.3, 'text-anchor':'middle', 'dominant-baseline':'central', 'font-size':8.5, fill:'#333'}, h_x_labels[i]);
    
    
  });
  h_y_ticks.forEach((t, i) => {
    const tk = add(g, 'line', {x1:675.5, x2:679, y1:y(t), y2:y(t), stroke:'#444', 'stroke-width':.8});
    
    
    const lb = add(g, 'text', {x:672.7, y:y(t), 'text-anchor':'end', 'dominant-baseline':'central', 'font-size':8.5, fill:'#333'}, h_y_labels[i]);
    
    
  });
  const xt = add(g, 'text', {x:817, y:970, 'text-anchor':'middle', 'dominant-baseline':'central', 'font-size':10, fill:'#333'}, 'PCo1 [8.9%]');
  
  
  const yt = add(g, 'text', {x:643, y:806, 'text-anchor':'middle', 'dominant-baseline':'central', transform:'rotate(-90 643 806)', 'font-size':10, fill:'#333'}, 'PCo2 [6.5%]');
  
  
  groups.forEach((name, i) => {
    const ly = 684 + i * 17.1;
    const c = add(g, 'circle', {cx:971.3, cy:ly, r:3.3, fill:groupColors[i]});
    
    
    const t = add(g, 'text', {x:979.7, y:ly, 'dominant-baseline':'central', 'font-size':8.7, fill:'#333'}, name);
    
    
  });
})();

/* ---------- panel I ---------- */
(function () {
  const g = panel('panel-i');
  const y = linear(0, 1, 915.2, 747);
  const x = i => 1205 + i * 91.9;
  const hw = 44;
  const frame = add(g, 'rect', {x:1158, y:741, width:369.3, height:174.2, fill:'#fff', stroke:'#666', 'stroke-width':1});
  
  
  i_ticks.forEach((t, i) => {
    const tk = add(g, 'line', {x1:1154.5, x2:1158, y1:y(t), y2:y(t), stroke:'#555', 'stroke-width':.8});
    
    
    const lb = add(g, 'text', {x:1152, y:y(t), 'text-anchor':'end', 'dominant-baseline':'central', 'font-size':7, fill:'#444'}, i_tick_labels[i]);
    
    
  });
  groups.forEach((name, i) => {
    const low = name.toLowerCase();
    const w = add(g, 'line', {x1:x(i), x2:x(i), y1:y(i_lo[i]), y2:y(i_hi[i]), stroke:'#777', 'stroke-width':1});
    
    
    [i_lo[i], i_hi[i]].forEach(v => {
      const c = add(g, 'line', {x1:x(i) - hw, x2:x(i) + hw, y1:y(v), y2:y(v), stroke:'#777', 'stroke-width':1});
      
      
    });
    const b = add(g, 'rect', {x:x(i) - hw, y:y(i_q3[i]), width:hw * 2, height:y(i_q1[i]) - y(i_q3[i]), fill:groupColors[i], stroke:'#555', 'stroke-width':.6});
    
    
    const m = add(g, 'line', {x1:x(i) - hw, x2:x(i) + hw, y1:y(i_med[i]), y2:y(i_med[i]), stroke:'#1a1a2a', 'stroke-width':1});
    
    
    const tk = add(g, 'line', {x1:x(i), x2:x(i), y1:915.2, y2:918.5, stroke:'#555', 'stroke-width':.8});
    
    
    const lb = add(g, 'text', {x:x(i), y:925.7, 'text-anchor':'middle', 'dominant-baseline':'central', 'font-size':6.8, fill:'#444'}, name);
    
    
    const ct = add(g, 'text', {x:x(i), y:937.8, 'text-anchor':'middle', 'dominant-baseline':'central', 'font-size':6.9, fill:'#555'}, i_counts[i]);
    
    
  });
})();

/* ---------- panels J-K ---------- */
function stack(cfg) {
  const g = panel(cfg.id);
  const y = linear(0, 100, 1244.3, 1057.3);
  const ax = cfg.axisX;
  const barL = i => ax + 28.7 + i * 91.1;
  const barW = 63.6;
  const tops = groups.map(() => 0);
  cfg.series.forEach((vals, si) => {
    const low = cfg.names[si].toLowerCase();
    groups.forEach((name, i) => {
      const b = add(g, 'rect', {x:barL(i), y:y(tops[i] + vals[i]), width:barW, height:Math.max(0, y(tops[i]) - y(tops[i] + vals[i])), fill:stackColors[si]});
      
      
      if (i < 3) {
        const l0 = tops[i], l1 = tops[i] + vals[i], r0 = tops[i + 1], r1 = tops[i + 1] + cfg.series[si][i + 1];
        const x0 = barL(i) + barW, x1 = barL(i + 1);
        const f = add(g, 'polygon', {points:[x0 + ',' + y(l0), x0 + ',' + y(l1), x1 + ',' + y(r1), x1 + ',' + y(r0)].join(' '), fill:stackColors[si], 'fill-opacity':.3});
        
        
      }
    });
    groups.forEach((name, i) => { tops[i] += vals[i]; });
  });
  const axY = add(g, 'line', {x1:ax, x2:ax, y1:1057.3, y2:1244.3, stroke:'#555', 'stroke-width':1});
  
  
  const axX = add(g, 'line', {x1:ax, x2:ax + 393.6, y1:1244.3, y2:1244.3, stroke:'#555', 'stroke-width':1});
  
  
  stack_ticks.forEach(t => {
    const tk = add(g, 'line', {x1:ax - 3, x2:ax, y1:y(t), y2:y(t), stroke:'#555', 'stroke-width':.8});
    
    
    const lb = add(g, 'text', {x:ax - 6, y:y(t), 'text-anchor':'end', 'dominant-baseline':'central', 'font-size':8.2, fill:'#333'}, String(t));
    
    
  });
  groups.forEach((name, i) => {
    const cx = barL(i) + barW / 2;
    const tk = add(g, 'line', {x1:cx, x2:cx, y1:1244.3, y2:1248, stroke:'#555', 'stroke-width':.8});
    
    
    const lb = add(g, 'text', {x:cx, y:1253.5, 'text-anchor':'middle', 'dominant-baseline':'central', 'font-size':8, fill:'#333'}, name);
    
    
  });
  const tx = ax - 26;
  const at = add(g, 'text', {x:tx, y:1150, 'text-anchor':'middle', 'dominant-baseline':'central', transform:'rotate(-90 ' + tx + ' 1150)', 'font-size':7.7, fill:'#444'}, 'Relative Abundance (%)');
  
  
  cfg.names.forEach((n, i) => {
    const ly = 1068 + i * 10.03;
    const s = add(g, 'rect', {x:cfg.legendX, y:ly - 3.6, width:7.6, height:7.2, fill:stackColors[i]});
    
    
    const t = add(g, 'text', {x:cfg.legendX + 10.3, y:ly, 'dominant-baseline':'central', 'font-size':8.1, 'font-style':'italic', fill:'#333'}, n);
    
    
  });
}
stack({id:'panel-j', axisX:47.9, legendX:454.8, names:j_names,
  series:[j_firmicutes_d,j_firmicutes_a,j_firmicutes_c,j_proteobacteria,j_bacteroidota,j_actinobacteriota,j_desulfobacterota,j_verrucomicrobiota,j_planctomycetota,j_gemmatimonadota,j_others]});
stack({id:'panel-k', axisX:604, legendX:1010, names:k_names,
  series:[k_ligilactobacillus,k_lactobacillus,k_limosilactobacillus,k_escherichia,k_dwaynesavagella,k_enterococcus,k_liquorilactobacillus,k_megamonas,k_blautia,k_streptococcus,k_others]});

/* ---------- panel L ---------- */
(function () {
  const g = panel('panel-l');
  const cols = [l_nd,l_ndaee,l_hd,l_hdaee];
  const x0 = 1283.3, cw = 10.1, y0 = 1043.5, rh = 10.03;
  function heat(v) {
    let r, gg, b;
    if (v >= 0) { const t = Math.min(1, v / 1.5); r = 255; gg = b = Math.round(255 * (1 - t)); }
    else { const t = Math.min(1, -v / 1.28); b = 255; r = gg = Math.round(255 * (1 - t)); }
    return 'rgb(' + r + ',' + gg + ',' + b + ')';
  }
  l_columns.forEach((name, c) => {
    const bar = add(g, 'rect', {x:x0 + c * cw, y:1030.6, width:cw, height:11.3, fill:l_column_colors[c]});
    
    
    l_rows.forEach((rowName, r) => {
      const cell = add(g, 'rect', {x:x0 + c * cw, y:y0 + r * rh, width:cw, height:rh, fill:heat(cols[c][r]), stroke:'#eee', 'stroke-width':.4});
      
      
    });
    const cx = x0 + (c + .5) * cw;
    const lb = add(g, 'text', {x:cx, y:1249.5, 'text-anchor':'end', 'dominant-baseline':'central', transform:'rotate(-90 ' + cx + ' 1249.5)', 'font-size':8, fill:'#333'}, name);
    
    
  });
  l_rows.forEach((rowName, r) => {
    const t = add(g, 'text', {x:1326.7, y:y0 + (r + .5) * rh, 'dominant-baseline':'central', 'font-size':8.25, 'font-style':'italic', fill:'#333'}, rowName);
    
    
  });
  function rowDendro(node) {
    if (typeof node === 'number') return {x:x0, y:y0 + (node + .5) * rh};
    const a = rowDendro(node[1]);
    const b = rowDendro(node[2]);
    const nx = x0 - node[0] / 3;
    const p = add(g, 'polyline', {points:[a.x + ',' + a.y, nx + ',' + a.y, nx + ',' + b.y, b.x + ',' + b.y].join(' '), fill:'none', stroke:'#333', 'stroke-width':.9});
    
    
    return {x:nx, y:(a.y + b.y) / 2};
  }
  rowDendro(l_row_tree);
  function colDendro(node) {
    if (typeof node === 'number') return {x:x0 + (node + .5) * cw, y:1030.6};
    const a = colDendro(node[1]);
    const b = colDendro(node[2]);
    const ny = 1030.6 - node[0];
    const p = add(g, 'polyline', {points:[a.x + ',' + a.y, a.x + ',' + ny, b.x + ',' + ny, b.x + ',' + b.y].join(' '), fill:'none', stroke:'#333', 'stroke-width':.9});
    
    
    return {x:(a.x + b.x) / 2, y:ny};
  }
  colDendro(l_col_tree);
  const defs = add(g, 'defs', {});
  const lg = add(defs, 'linearGradient', {id:'heat-scale', x1:0, x2:0, y1:0, y2:1});
  add(lg, 'stop', {offset:'0%', 'stop-color':'#ff0000'});
  add(lg, 'stop', {offset:'54%', 'stop-color':'#ffffff'});
  add(lg, 'stop', {offset:'100%', 'stop-color':'#0000ff'});
  const sc = add(g, 'rect', {x:1410.7, y:1050.3, width:6.6, height:67.7, fill:'url(#heat-scale)'});
  
  
  const hi = add(g, 'text', {x:1420.7, y:1054.8, 'dominant-baseline':'central', 'font-size':7, fill:'#444'}, '1.50');
  
  
  const mid = add(g, 'text', {x:1420.7, y:1084, 'dominant-baseline':'central', 'font-size':7, fill:'#444'}, '0.00');
  
  
  const lo = add(g, 'text', {x:1420.7, y:1115, 'dominant-baseline':'central', 'font-size':7, fill:'#444'}, '-1.28');
  
  
  groups.forEach((name, i) => {
    const s = add(g, 'rect', {x:1442, y:1049.7 + i * 13.5, width:13.3, height:13.5, fill:groupColors[i]});
    
    
    const t = add(g, 'text', {x:1458.7, y:1056.5 + i * 13.5, 'dominant-baseline':'central', 'font-size':10.6, fill:'#333'}, name);
    
    
  });
})();

/* ---------- panels M-N ---------- */
function lefse(cfg) {
  const g = panel(cfg.id);
  const x = linear(cfg.ticks[0], cfg.ticks[cfg.ticks.length - 1], cfg.x0, cfg.x1);
  const rowY = i => cfg.y0 + i * cfg.rowStep;
  const bg = add(g, 'rect', {x:cfg.left, y:cfg.top, width:cfg.right - cfg.left, height:cfg.bottom - cfg.top, fill:'#fff'});
  
  
  const tStep = cfg.ticks[1] - cfg.ticks[0];
  cfg.ticks.forEach((t, i) => {
    const mid = t + tStep / 2;
    if (x(mid) < cfg.right) {
      const mg = add(g, 'line', {x1:x(mid), x2:x(mid), y1:cfg.top, y2:cfg.bottom, stroke:'#e4e4e4', 'stroke-width':1});
      
      
    }
    const gl = add(g, 'line', {x1:x(t), x2:x(t), y1:cfg.top, y2:cfg.bottom, stroke:'#cfcfcf', 'stroke-width':1});
    
    
    const tk = add(g, 'line', {x1:x(t), x2:x(t), y1:cfg.bottom, y2:cfg.bottom + 2.5, stroke:'#555', 'stroke-width':.8});
    
    
    const lb = add(g, 'text', {x:x(t), y:cfg.bottom + 10.3, 'text-anchor':'middle', 'dominant-baseline':'central', 'font-size':cfg.font, 'font-family':DJSERIF, fill:'#333'}, String(t));
    
    
  });
  cfg.labels.forEach((name, i) => {
    const gl = add(g, 'line', {x1:cfg.left - 4.5, x2:cfg.right, y1:rowY(i), y2:rowY(i), stroke:'#bdbdbd', 'stroke-width':1});
    
    
    const b = add(g, 'rect', {x:x(0), y:rowY(i) - cfg.barH / 2, width:x(cfg.scores[i]) - x(0), height:cfg.barH, fill:cfg.classes[i] ? '#ee0000' : '#3b4992', stroke:'#1c1c2a', 'stroke-width':.8});
    
    
    const t = add(g, 'text', {x:cfg.left - 5, y:rowY(i), 'text-anchor':'end', 'dominant-baseline':'central', 'font-size':cfg.font, 'font-family':DJSERIF, fill:'#333'}, name);
    
    
  });
  const frame = add(g, 'rect', {x:cfg.left, y:cfg.top, width:cfg.right - cfg.left, height:cfg.bottom - cfg.top, fill:'none', stroke:'#aaa', 'stroke-width':1});
  
  
  const cx = (cfg.left + cfg.right) / 2;
  const t1 = add(g, 'text', {x:cx, y:cfg.top - 25, 'text-anchor':'middle', 'dominant-baseline':'central', 'font-size':cfg.font, 'font-family':DJSERIF, fill:'#333'}, 'LefSe analysis');
  
  
  const t2 = add(g, 'text', {x:cx, y:cfg.top - 9.8, 'text-anchor':'middle', 'dominant-baseline':'central', 'font-size':cfg.font, 'font-family':DJSERIF, fill:'#333'}, 'The current LDA threshold is 2');
  
  
  const xt = add(g, 'text', {x:cx, y:cfg.bottom + 22.8, 'text-anchor':'middle', 'dominant-baseline':'central', 'font-size':cfg.font, 'font-family':DJSERIF, fill:'#333'}, 'LDA Score (log10)');
  
  
  cfg.legendNames.forEach((n, i) => {
    const s = add(g, 'rect', {x:cfg.legX, y:cfg.legY + i * cfg.legH, width:cfg.legW, height:cfg.legH, fill:i ? '#ee0000' : '#3b4992', stroke:'#1c1c2a', 'stroke-width':.7});
    
    
    const t = add(g, 'text', {x:cfg.legTextX, y:cfg.legY + (i + .5) * cfg.legH, 'text-anchor':cfg.legAnchor, 'dominant-baseline':'central', 'font-size':cfg.font, 'font-family':DJSERIF, fill:'#333'}, n);
    
    
  });
}
lefse({id:'panel-m', labels:m_labels, scores:m_scores, classes:m_classes, ticks:m_ticks, left:451.4, right:695.7, top:1361.7, bottom:1662,
  x0:462.1, x1:678.2, y0:1367.7, rowStep:9.95, barH:8.3, font:11.1, legendNames:['ND','HD'],
  legX:712, legY:1506, legW:15, legH:15.4, legTextX:734.3, legAnchor:'start'});
lefse({id:'panel-n', labels:n_labels, scores:n_scores, classes:n_classes, ticks:n_ticks, left:1030.7, right:1266.4, top:1432.3, bottom:1598,
  x0:1041, x1:1200.4, y0:1440.3, rowStep:13.64, barH:11, font:11.1, legendNames:['HD','HDAEE'],
  legX:1282, legY:1509, legW:15.5, legH:15.5, legTextX:1325.7, legAnchor:'middle'});
</script>
</body>
</html>
